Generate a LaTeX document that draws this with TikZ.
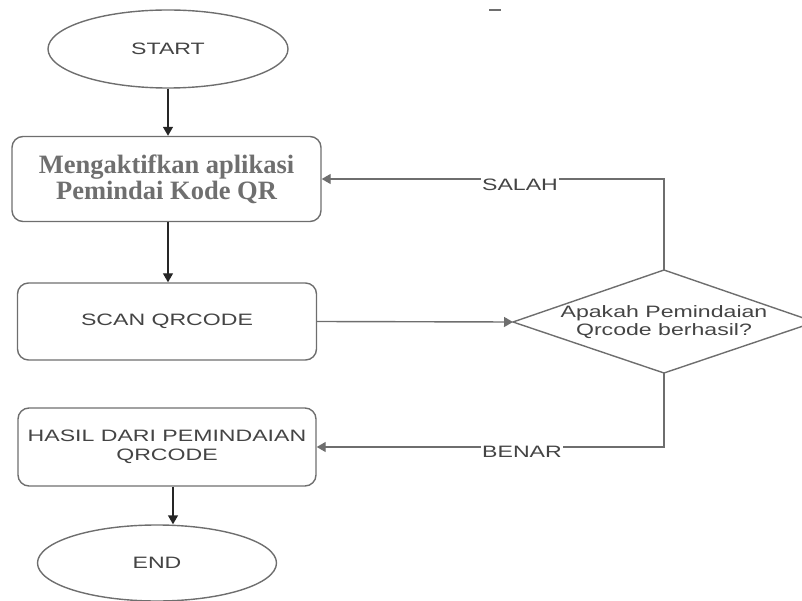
\documentclass[tikz,border=0pt]{standalone}
\usepackage{fontspec}
\setmainfont{Liberation Serif}
\newfontfamily\sansw[FakeStretch=1.4]{Liberation Sans}
\usetikzlibrary{shapes.geometric,arrows.meta}
\definecolor{edgegray}{HTML}{6E6E6E}
\definecolor{txtgray}{HTML}{444444}
\definecolor{serifgray}{HTML}{6F6F6F}
\tikzset{
  term/.style={ellipse, draw=edgegray, line width=1.4pt, inner sep=0pt,
    font=\sansw\fontsize{16.5}{19}\selectfont, text=txtgray},
  procbox/.style={rectangle, rounded corners=11pt, draw=edgegray, line width=1.4pt,
    inner sep=0pt, align=center, font=\sansw\fontsize{16.5}{19}\selectfont, text=txtgray},
  arr/.style={draw=black!85, line width=1.4pt, -{Triangle[length=9pt,width=10pt]}},
  garr/.style={draw=edgegray, line width=1.4pt, -{Triangle[length=9pt,width=10pt]}},
  gline/.style={draw=edgegray, line width=1.4pt},
  elabel/.style={fill=white, inner sep=1pt, font=\sansw\fontsize{16.5}{19}\selectfont, text=txtgray}
}
\begin{document}
\begin{tikzpicture}[x=1pt,y=-1pt]
\useasboundingbox (0,0) rectangle (802,601);
% nodes
\node[term, minimum width=240pt, minimum height=78pt] (start) at (168,49) {START};
\node[procbox, minimum width=309pt, minimum height=85pt,
  font=\bfseries\fontsize{26.5}{26}\selectfont, text=serifgray] (act) at (166.5,179)
  {Mengaktifkan aplikasi\\Pemindai Kode QR};
\node[procbox, minimum width=299pt, minimum height=77pt] (scan) at (167,321.5) {SCAN QRCODE};
\node[procbox, minimum width=298pt, minimum height=78pt] (hasil) at (167,447)
  {HASIL DARI PEMINDAIAN\\QRCODE};
\node[term, minimum width=239pt, minimum height=76pt] (end) at (157,563) {END};
% decision diamond
\coordinate (decL) at (513,322);
\coordinate (decT) at (664,270);
\coordinate (decR) at (815,322);
\coordinate (decB) at (664,373);
\draw[edgegray, line width=1.4pt, line join=miter] (decL) -- (decT) -- (decR) -- (decB) -- cycle;
\node[align=center, inner sep=0pt, font=\sansw\fontsize{16.5}{18.5}\selectfont, text=txtgray]
  (dec) at (664,322) {Apakah Pemindaian\\Qrcode berhasil?};
% small mark at top
\coordinate (markA) at (489,10);
\coordinate (markB) at (501,10);
\draw[edgegray, line width=1.2pt] (markA) -- (markB);
% connectors
\draw[arr] (start.south) -- (start.south |- act.north);
\draw[arr] (act.south -| start.south) -- (start.south |- scan.north);
\draw[garr] (scan.east) -- (decL);
\draw[garr] (decT) |- (act.east);
\node[elabel] (salah) at (520,185) {SALAH};
\draw[garr] (decB) |- (hasil.east);
\node[elabel] (benar) at (522,452) {BENAR};
\draw[arr] ([xshift=6pt]hasil.south) -- ([xshift=6pt]hasil.south |- end.north);
\end{tikzpicture}
\end{document}
